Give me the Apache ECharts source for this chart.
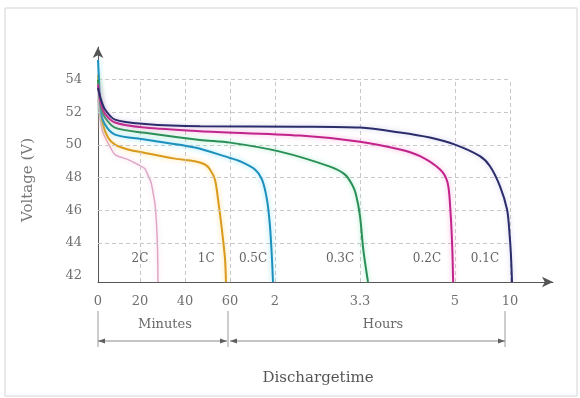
<!DOCTYPE html>
<html>
<head>
<meta charset="utf-8">
<script src="https://cdn.jsdelivr.net/npm/echarts@6/dist/echarts.min.js"></script>
<style>html,body{margin:0;padding:0;background:#fff}#c{width:580px;height:398px}</style>
</head>
<body>
<div id="c"></div>
<script>
// ---- axis definition (non-uniform schematic time axis) ----
const tickMinutes = [0, 20, 40, 60, 120, 198, 300, 600];
const tickLabels  = ['0', '20', '40', '60', '2', '3.3', '5', '10'];
const axisStops   = [0, 42, 87, 132, 177, 262, 357, 412];
const yTicks = [42, 44, 46, 48, 50, 52, 54];
const gridVolts = [44, 46, 48, 50, 52, 54];

// ---- series data: time in minutes, voltage in V ----
const t2C = [0, 0.95, 2.38, 5.7, 8.1, 14.3, 19.0, 22.1, 23.4, 24.9, 25.8, 26.7, 27.4, 27.8, 28.0];
const v2C = [52.78, 51.68, 50.76, 49.9, 49.41, 49.10, 48.8, 48.55, 48.18, 47.7, 47.08, 46.35, 45.0, 43.6, 41.6];

const t1C = [0, 0.95, 2.38, 4.76, 8.1, 14.3, 22.2, 35.5, 44.4, 48.9, 51.1, 53.3, 54.7, 56.4, 57.8, 58.2];
const v1C = [54.3, 52.47, 51.25, 50.45, 50.02, 49.72, 49.51, 49.16, 49.0, 48.8, 48.49, 47.88, 46.65, 44.82, 42.98, 41.6];

const t05C = [0, 0.48, 1.43, 3.33, 8.1, 22.2, 44.4, 60, 73.3, 93.3, 102.7, 109.3, 113.3, 116, 117.3];
const v05C = [55.2, 54.0, 52.04, 51.25, 50.63, 50.33, 49.84, 49.2, 49.0, 48.49, 47.88, 46.65, 45.02, 42.98, 41.6];

const t03C = [0, 1.43, 3.33, 8.1, 22.2, 46.7, 60, 124.6, 170.5, 184.3, 190.7, 194.3, 198, 201.5, 206.6];
const v03C = [54.0, 52.29, 51.68, 51.06, 50.74, 50.3, 50.14, 49.59, 48.67, 48.18, 47.57, 46.96, 45.63, 43.6, 41.6];

const t02C = [0, 1.43, 3.33, 8.1, 22.2, 46.7, 143, 198, 241, 262.5, 284, 292, 295, 297, 298];
const v02C = [53.7, 52.53, 51.92, 51.37, 51.06, 50.84, 50.57, 50.2, 49.72, 49.31, 48.49, 47.7, 46.04, 43.79, 41.6];

const t01C = [0, 1.43, 3.33, 8.1, 22.2, 46.7, 143, 198, 241, 273, 300, 436, 491, 545, 584, 597, 605, 611];
const v01C = [53.5, 52.78, 52.17, 51.55, 51.28, 51.14, 51.12, 51.06, 50.76, 50.45, 50.02, 49.31, 48.69, 47.47, 46.04, 44.63, 43.29, 41.6];

const curveNames = ['2C', '1C', '0.5C', '0.3C', '0.2C', '0.1C'];
const labelMinutes = [20, 49.4, 90.7, 179.7, 269.9, 463.6];
const labelVolts = [43, 43, 43, 43, 43, 43];

// ---- styles ----
const FONT = '"DejaVu Serif", "Liberation Serif", serif';
const curveColors = ['#dfa6c6', '#d99a1e', '#1c8fbd', '#2a8f57', '#c2238b', '#2b2c6b'];
const glowColors = ['rgba(240,190,220,0.7)', 'rgba(255,215,110,0.8)', 'rgba(110,220,245,0.8)', 'rgba(140,230,185,0.8)', 'rgba(250,150,210,0.8)', 'rgba(170,170,220,0.6)'];
const curveWidths = [1.5, 2, 2, 2, 2, 2];

function toAxis(m) {
  for (let i = 1; i < tickMinutes.length; i++) {
    if (m <= tickMinutes[i] || i === tickMinutes.length - 1) {
      const a = tickMinutes[i - 1], b = tickMinutes[i];
      return axisStops[i - 1] + (m - a) / (b - a) * (axisStops[i] - axisStops[i - 1]);
    }
  }
}
function pairs(ts, vs) { return ts.map((t, i) => [toAxis(t), vs[i]]); }

const curves = [[t2C, v2C], [t1C, v1C], [t05C, v05C], [t03C, v03C], [t02C, v02C], [t01C, v01C]];
const Y_MIN = 41.6, Y_MAX = 56;

const gridLines = [];
gridVolts.forEach(v => gridLines.push([{ coord: [0, v] }, { coord: [toAxis(600), v] }]));
tickMinutes.slice(1).forEach(t => gridLines.push([{ coord: [toAxis(t), Y_MIN] }, { coord: [toAxis(t), 54] }]));

const series = [{
  type: 'line', data: [], z: 1, silent: true,
  markLine: {
    silent: true, symbol: ['none', 'none'], label: { show: false },
    lineStyle: { color: '#c8c8c8', type: [4, 3], width: 1 },
    emphasis: { disabled: true },
    data: gridLines
  }
}];
curves.forEach((c, i) => {
  series.push({
    name: curveNames[i], type: 'line', z: 3 + i, showSymbol: false, smooth: 0.3,
    data: pairs(c[0], c[1]),
    lineStyle: { color: curveColors[i], width: curveWidths[i], shadowColor: glowColors[i], shadowBlur: 5 },
    itemStyle: { color: curveColors[i] }
  });
});
series.push({
  type: 'scatter', z: 10, symbolSize: 0, silent: true,
  data: curveNames.map((n, i) => [toAxis(labelMinutes[i]), labelVolts[i], n]),
  label: { show: true, position: 'inside', formatter: p => p.value[2], color: '#3c3c3c', fontFamily: FONT, fontSize: 12 }
});

const chart = echarts.init(document.getElementById('c'), null, { renderer: 'canvas' });
chart.setOption({
  backgroundColor: '#fff',
  animation: false,
  grid: { left: 98, right: 27, top: 47, bottom: 116, containLabel: false, outerBoundsMode: 'none' },
  xAxis: {
    type: 'value', min: 0, max: 455,
    axisLine: { show: true, symbol: ['none', 'arrow'], symbolSize: [8, 11], lineStyle: { color: '#555', width: 1 } },
    axisTick: { show: false }, splitLine: { show: false },
    axisLabel: {
      customValues: axisStops, margin: 13, color: '#707070', fontFamily: FONT, fontSize: 13,
      formatter: v => { let k = 0; axisStops.forEach((s, i) => { if (Math.abs(s - v) < Math.abs(axisStops[k] - v)) k = i; }); return tickLabels[k]; }
    }
  },
  yAxis: {
    type: 'value', min: Y_MIN, max: Y_MAX,
    axisLine: { show: true, symbol: ['none', 'arrow'], symbolSize: [8, 11], lineStyle: { color: '#555', width: 1 } },
    axisTick: { show: false }, splitLine: { show: false },
    axisLabel: { customValues: yTicks, margin: 16, color: '#707070', fontFamily: FONT, fontSize: 13 }
  },
  series: series
});

// ---- annotations below the axis ----
const px = m => chart.convertToPixel({ gridIndex: 0 }, [toAxis(m), Y_MIN])[0];
const x0 = px(0), x60 = px(60) - 2, x10 = px(600) - 5;
const yArr = 341, yTop = 311, yBot = 347;
const ink = '#606060';
function arrowHead(x, y, dir) {
  return { type: 'polygon', shape: { points: [[x, y], [x - dir * 7, y - 2.5], [x - dir * 7, y + 2.5]] }, style: { fill: ink } };
}
const g = [
  { type: 'rect', shape: { x: 5, y: 8, width: 572, height: 388 }, style: { fill: 'none', stroke: '#d4d4d4', lineWidth: 1 } },
  { type: 'line', shape: { x1: x0, y1: yTop, x2: x0, y2: yBot }, style: { stroke: '#9a9a9a', lineWidth: 1 } },
  { type: 'line', shape: { x1: x60, y1: yTop, x2: x60, y2: yBot }, style: { stroke: '#9a9a9a', lineWidth: 1 } },
  { type: 'line', shape: { x1: x10, y1: yTop, x2: x10, y2: yBot }, style: { stroke: '#9a9a9a', lineWidth: 1 } },
  { type: 'line', shape: { x1: x0, y1: yArr, x2: x60 - 1, y2: yArr }, style: { stroke: '#8a8a8a', lineWidth: 1 } },
  { type: 'line', shape: { x1: x60 + 2, y1: yArr, x2: x10, y2: yArr }, style: { stroke: '#8a8a8a', lineWidth: 1 } },
  arrowHead(x0, yArr, -1), arrowHead(x60 - 1, yArr, 1),
  arrowHead(x60 + 2, yArr, -1), arrowHead(x10, yArr, 1),
  { type: 'text', x: (x0 + x60) / 2 + 2, y: 325, style: { text: 'Minutes', fill: '#6a6a6a', font: '13px ' + FONT, align: 'center', verticalAlign: 'middle' } },
  { type: 'text', x: 383, y: 325, style: { text: 'Hours', fill: '#6a6a6a', font: '13px ' + FONT, align: 'center', verticalAlign: 'middle' } },
  { type: 'text', x: 318, y: 378, style: { text: 'Dischargetime', fill: '#555', font: '15px ' + FONT, align: 'center', verticalAlign: 'middle' } },
  { type: 'text', x: 28, y: 180, rotation: Math.PI / 2, style: { text: 'Voltage (V)', fill: '#777', font: '15px ' + FONT, align: 'center', verticalAlign: 'middle' } }
];
chart.setOption({ graphic: g });
</script>
</body>
</html>
